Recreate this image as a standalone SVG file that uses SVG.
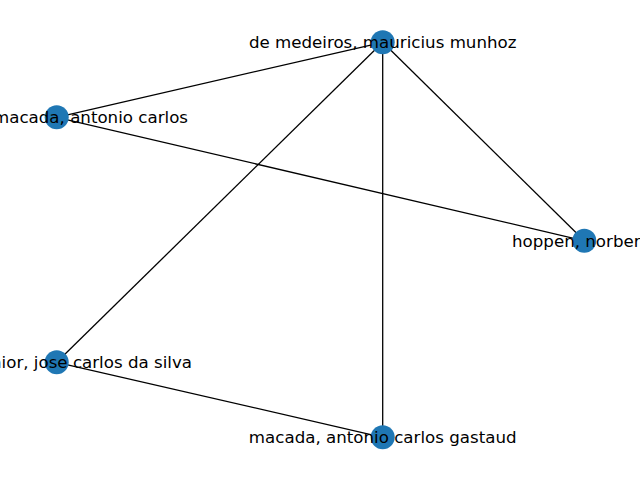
<svg xmlns="http://www.w3.org/2000/svg" width="640" height="480" viewBox="0 0 640 480">
<style>
.e{stroke:#000;stroke-width:1.3;fill:none}
.n{fill:#1f77b4}
.t{font-family:"DejaVu Sans",sans-serif;font-size:16.67px;fill:#000}
</style>
<rect width="640" height="480" fill="#fff"/>
<g id="edges">
<line class="e" x1="382.7" y1="42.3" x2="56.7" y2="117.3"/>
<line class="e" x1="382.7" y1="42.3" x2="56.7" y2="362.3"/>
<line class="e" x1="382.7" y1="42.3" x2="382.7" y2="437.3"/>
<line class="e" x1="382.7" y1="42.3" x2="584.3" y2="240.8"/>
<line class="e" x1="56.7" y1="117.3" x2="584.3" y2="240.8"/>
<line class="e" x1="56.7" y1="362.3" x2="382.7" y2="437.3"/>
</g>
<g id="node-medeiros">
<circle class="n" cx="382.7" cy="42.3" r="12"/>
<text class="t" x="382.7" y="48" text-anchor="middle">de medeiros, mauricius munhoz</text>
</g>
<g id="node-macada">
<circle class="n" cx="56.7" cy="117.3" r="12"/>
<text class="t" x="188" y="123" text-anchor="end">macada, antonio carlos</text>
</g>
<g id="node-hoppen">
<circle class="n" cx="584.3" cy="240.8" r="12"/>
<text class="t" x="512" y="246.5" text-anchor="start">hoppen, norber</text>
</g>
<g id="node-junior">
<circle class="n" cx="56.7" cy="362.3" r="12"/>
<text class="t" x="192" y="368" text-anchor="end">nior, jose carlos da silva</text>
</g>
<g id="node-gastaud">
<circle class="n" cx="382.7" cy="437.3" r="12"/>
<text class="t" x="382.7" y="443" text-anchor="middle">macada, antonio carlos gastaud</text>
</g>
</svg>
